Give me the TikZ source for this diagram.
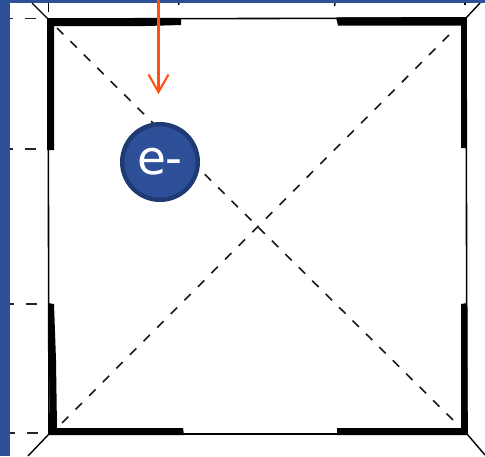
\documentclass[tikz,border=0pt]{standalone}
\usepackage{fontspec}
\setmainfont{DejaVu Sans}
\definecolor{band}{HTML}{2E5098}
\definecolor{ringc}{HTML}{1F3B75}
\definecolor{arrowc}{HTML}{FF5010}
\tikzset{
  thin frame/.style={draw=black,line width=1.6pt},
  guide/.style={draw=black!85,line width=1.6pt,dash pattern=on 11pt off 12pt},
  diag/.style={draw=black!90,line width=1.6pt},
  outer/.style={draw=black,line width=1.4pt},
  charge/.style={circle,draw=ringc,fill=band,line width=4.5pt,minimum size=75.5pt,inner sep=0pt,text=white,font=\fontsize{47}{47}\selectfont},
  beam/.style={draw=arrowc,line width=2.1pt}
}
\begin{document}
\begin{tikzpicture}[x=1pt,y=-1pt]
\useasboundingbox (0,0) rectangle (485,456);
\fill[white] (0,0) rectangle (485,456);
% corner coordinates of the frame
\coordinate (tl) at (48,19);
\coordinate (tr) at (466,18);
\coordinate (br) at (467,434);
\coordinate (bl) at (49,434);
% thin frame
\draw[thin frame] (tl) -- (tr) -- (br) -- (bl) -- cycle;
% thick corner pieces
\fill[black] (47,19) -- (181,19) -- (181,25) -- (146,26) -- (54,26) -- (54,150) -- (47,150) -- cycle;
\fill[black] (336,17.5) -- (466.5,17) -- (466.5,148) -- (461,148) -- (461,25.5) -- (338,25.5) -- cycle;
\fill[black] (48,303) -- (54,304) -- (56,360) -- (57,428) -- (183,428) -- (184,435) -- (50,435) -- (49,360) -- cycle;
\fill[black] (461,304) -- (467,303) -- (467.5,435) -- (337,435) -- (337,428) -- (461,428) -- cycle;
% guides leaving the frame
\coordinate (g1) at (36,18.5);
\coordinate (g1e) at (10,18.5);
\coordinate (g2) at (36,149);
\coordinate (g2e) at (10,149);
\coordinate (g3) at (37,304);
\coordinate (g3e) at (10,304);
\coordinate (g4) at (38,433);
\coordinate (g4e) at (10,433);
\foreach \n in {1,2,3,4} \draw[guide] (g\n) -- (g\n e);
% outer corner strokes
\coordinate (o1) at (32,3);
\coordinate (o2) at (480,3);
\coordinate (o3) at (28,456);
\coordinate (o4) at (485,455);
\draw[outer] (o1) -- (tl);
\draw[outer] (o2) -- (tr);
\draw[outer] (o3) -- (bl);
\draw[outer] (o4) -- (br);
\coordinate (v1a) at (48.5,3);
\coordinate (v1b) at (48.5,12);
\draw[outer] (v1a) -- (v1b);
\coordinate (v2a) at (179,3);
\coordinate (v2b) at (178.5,5);
\draw[outer] (v2a) -- (v2b);
\coordinate (v3a) at (335,3);
\coordinate (v3b) at (334.5,6);
\draw[outer] (v3a) -- (v3b);
\coordinate (v4a) at (465,3);
\coordinate (v4b) at (465,5);
\draw[outer] (v4a) -- (v4b);
% dashed diagonals
\coordinate (d1a) at (57,28);
\coordinate (d1b) at (453,420);
\coordinate (d2a) at (449,35);
\coordinate (d2b) at (62,423);
\draw[diag,dash pattern=on 9pt off 9.9pt] (d1a) -- (d1b);
\draw[diag,dash pattern=on 9pt off 10.25pt] (d2a) -- (d2b);
% blue bands
\fill[band] (0,0) rectangle (485,3);
\fill[band] (0,0) rectangle (10,456);
% charge and arrow
\node[charge] (e) at (160,162) {\raisebox{-3pt}{e-}};
\coordinate (as) at (158.5,0);
\coordinate (at) at (158.5,92);
\coordinate (al) at (148.5,74.5);
\coordinate (ar) at (168.5,74.5);
\draw[beam] (as) -- (at);
\draw[beam] (al) -- (at) -- (ar);
\end{tikzpicture}
\end{document}
